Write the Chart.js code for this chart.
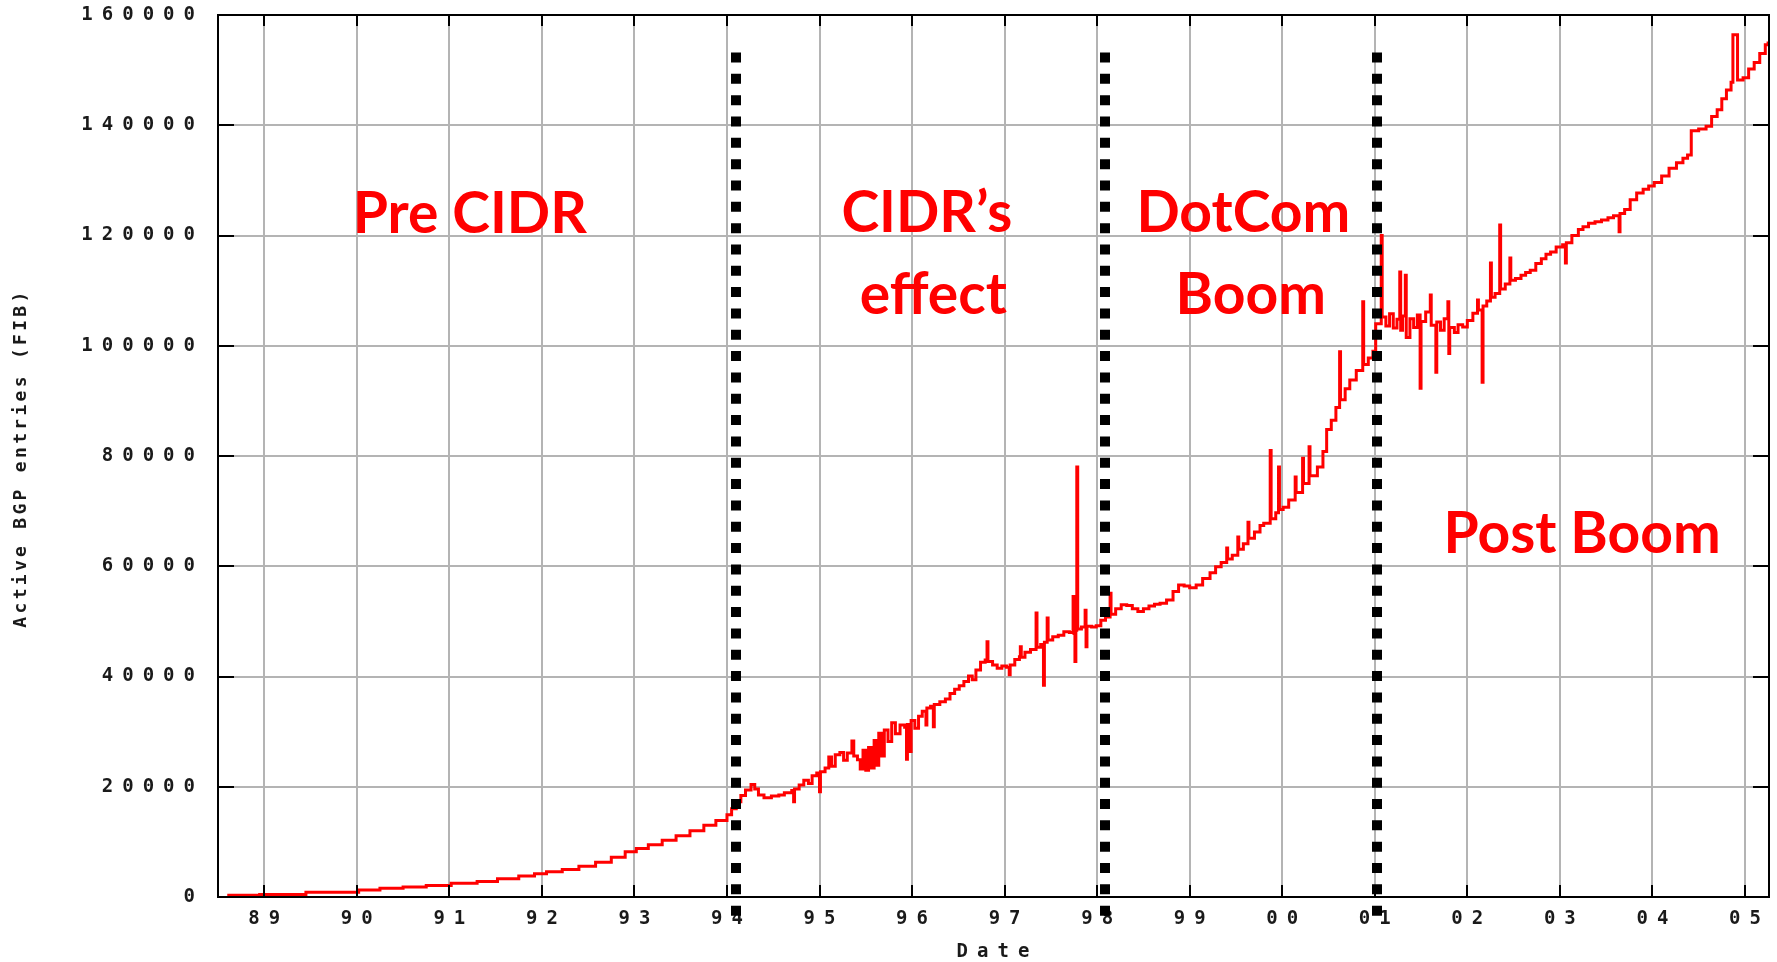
<!DOCTYPE html>
<html>
<head>
<meta charset="utf-8">
<title>Active BGP entries (FIB)</title>
<script src="https://cdn.jsdelivr.net/npm/chart.js@4.4.1/dist/chart.umd.min.js"></script>
<style>
  html, body { margin: 0; padding: 0; background: #fff; }
  #wrap { width: 1777px; height: 962px; position: relative; }
</style>
</head>
<body>
<div id="wrap"><canvas id="bgpChart"></canvas></div>
<script>
// date (fractional year) of each sample
var years = [
  1988.6, 1988.95, 1989.45, 1990.02, 1990.25, 1990.5, 1990.75, 1991.02, 1991.3, 1991.52,
  1991.75, 1991.92, 1992.05, 1992.22, 1992.4, 1992.58, 1992.75, 1992.9, 1993.02, 1993.15,
  1993.3, 1993.45, 1993.6, 1993.75, 1993.88, 1994.0, 1994.05, 1994.1, 1994.15, 1994.2,
  1994.26, 1994.3, 1994.34, 1994.4, 1994.48, 1994.56, 1994.62, 1994.7, 1994.72, 1994.73,
  1994.78, 1994.83, 1994.88, 1994.92, 1994.97, 1995.0, 1995.01, 1995.06, 1995.1, 1995.13,
  1995.17, 1995.22, 1995.26, 1995.3, 1995.35, 1995.37, 1995.41, 1995.44, 1995.47, 1995.5,
  1995.53, 1995.56, 1995.59, 1995.61, 1995.64, 1995.67, 1995.7, 1995.74, 1995.78, 1995.82,
  1995.87, 1995.92, 1995.94, 1995.95, 1995.98, 1995.99, 1996.03, 1996.07, 1996.11, 1996.15,
  1996.16, 1996.2, 1996.23, 1996.24, 1996.3, 1996.36, 1996.41, 1996.46, 1996.51, 1996.56,
  1996.61, 1996.65, 1996.69, 1996.74, 1996.79, 1996.81, 1996.82, 1996.87, 1996.92, 1996.97,
  1997.02, 1997.05, 1997.06, 1997.11, 1997.16, 1997.17, 1997.18, 1997.22, 1997.28, 1997.34,
  1997.35, 1997.39, 1997.42, 1997.43, 1997.46, 1997.47, 1997.52, 1997.58, 1997.64, 1997.7,
  1997.74, 1997.75, 1997.76, 1997.77, 1997.78, 1997.79, 1997.83, 1997.87, 1997.88, 1997.89,
  1997.94, 1997.99, 1998.04, 1998.09, 1998.14, 1998.15, 1998.2, 1998.26, 1998.32, 1998.38,
  1998.44, 1998.5, 1998.56, 1998.62, 1998.68, 1998.75, 1998.82, 1998.88, 1998.94, 1999.0,
  1999.07, 1999.14, 1999.22, 1999.28, 1999.34, 1999.4, 1999.41, 1999.46, 1999.52, 1999.53,
  1999.58, 1999.63, 1999.64, 1999.7, 1999.76, 1999.8, 1999.87, 1999.88, 1999.93, 1999.96,
  1999.97, 2000.01, 2000.07, 2000.14, 2000.15, 2000.22, 2000.23, 2000.29, 2000.3, 2000.38,
  2000.44, 2000.48, 2000.53, 2000.58, 2000.62, 2000.63, 2000.68, 2000.73, 2000.8, 2000.87,
  2000.88, 2000.93, 2000.98, 2001.01, 2001.07, 2001.08, 2001.12, 2001.16, 2001.2, 2001.24,
  2001.27, 2001.28, 2001.3, 2001.33, 2001.34, 2001.38, 2001.42, 2001.46, 2001.49, 2001.5,
  2001.55, 2001.6, 2001.61, 2001.66, 2001.67, 2001.71, 2001.75, 2001.79, 2001.8, 2001.81,
  2001.86, 2001.9, 2001.95, 2002.0, 2002.06, 2002.11, 2002.12, 2002.16, 2002.17, 2002.21,
  2002.25, 2002.26, 2002.3, 2002.35, 2002.36, 2002.41, 2002.46, 2002.47, 2002.52, 2002.58,
  2002.63, 2002.68, 2002.74, 2002.8, 2002.85, 2002.9, 2002.96, 2003.03, 2003.06, 2003.07,
  2003.13, 2003.2, 2003.25, 2003.31, 2003.38, 2003.45, 2003.52, 2003.58, 2003.64, 2003.65,
  2003.7, 2003.76, 2003.83, 2003.9, 2003.96, 2004.02, 2004.1, 2004.18, 2004.26, 2004.33,
  2004.38, 2004.42, 2004.5, 2004.58, 2004.64, 2004.7, 2004.75, 2004.8, 2004.85, 2004.87,
  2004.92, 2004.98, 2005.04, 2005.1, 2005.16, 2005.22, 2005.25
];

// active BGP entries at each date
var entries = [
  300, 450, 850, 1270, 1570, 1800, 2100, 2480, 2800, 3300,
  3800, 4200, 4600, 5000, 5600, 6300, 7200, 8200, 8800, 9500,
  10300, 11100, 12000, 13000, 13900, 14900, 16000, 17300, 18400, 19400,
  20400, 19600, 18500, 18000, 18300, 18500, 18900, 19300, 17300, 19600,
  20300, 21200, 20600, 22000, 22500, 19100, 22700, 23400, 25400, 23700,
  25800, 26200, 24800, 26100, 28300, 25600, 24900, 23200, 26600, 23000,
  27100, 23400, 28400, 23900, 29700, 25600, 30300, 28200, 31600, 29600,
  31200, 30800, 25000, 31300, 26400, 32000, 30600, 32800, 33700, 31200,
  34300, 34600, 30900, 34900, 35400, 35900, 36900, 37700, 38300, 39100,
  40100, 39400, 41200, 42600, 43000, 46300, 42700, 42100, 41500, 41900,
  41700, 40300, 42100, 43100, 43600, 45400, 43500, 44400, 44900, 51500,
  45300, 45800, 38400, 46200, 50600, 46600, 47200, 47500, 48100, 48000,
  54500, 47800, 42700, 48400, 78000, 48600, 49000, 52000, 45400, 49100,
  49000, 49200, 50200, 50800, 55100, 51300, 52300, 53000, 52900, 52300,
  51800, 52300, 52800, 53100, 53300, 53900, 55400, 56600, 56400, 56100,
  56600, 57800, 58800, 59900, 60700, 63300, 61300, 62000, 65300, 63100,
  64100, 68000, 65100, 66200, 67400, 67800, 81000, 68600, 69700, 78000,
  70300, 70700, 72000, 76200, 73400, 79600, 75000, 81700, 76400, 78000,
  80800, 84800, 86500, 88800, 98900, 90200, 92200, 93800, 95500, 108000,
  96600, 97800, 99000, 104000, 120000, 105200, 103600, 105800, 103200, 104800,
  113400, 102800, 105400, 112800, 101500, 104900, 103300, 105600, 92300, 104400,
  106100, 109200, 103700, 95200, 104300, 102800, 104900, 108000, 98600, 103300,
  102400, 103800, 103400, 104600, 105900, 108300, 106500, 93400, 107200, 108100,
  115000, 108800, 109500, 121900, 110300, 111200, 115900, 111900, 112200, 112800,
  113300, 113700, 114900, 115800, 116600, 117000, 117900, 118300, 115000, 118700,
  120000, 121100, 121600, 122200, 122500, 122800, 123200, 123600, 120700, 124000,
  124700, 126500, 127700, 128400, 129000, 129600, 130800, 132200, 133200, 134000,
  134600, 139000, 139300, 139800, 141600, 142800, 144800, 146400, 147800, 156400,
  148200, 148600, 150200, 151400, 153000, 154600, 155200
];

// era boundaries (dotted lines)
var eraBreaks = [1994.1, 1998.08, 2001.02];

// era labels: text lines, date and entries of the baseline
var eraLabels = ["Pre CIDR", "CIDR\u2019s", "effect", "DotCom", "Boom", "Post Boom"];
var eraLabelX = [1991.22, 1996.16, 1996.23, 1999.58, 1999.66, 2003.24];
var eraLabelY = [120500, 120600, 105800, 120600, 105800, 62400];

var TICK_FONT = "DejaVu Sans Mono";
var TICK_SPACING = "9px";

function yearLabel(v) {
  var yy = Math.round(v) % 100;
  return (yy < 10 ? "0" : "") + yy;
}

var points = [];
for (var i = 0; i < years.length; i++) {
  points.push({ x: years[i], y: entries[i] });
}

function line(ctx, x1, y1, x2, y2) {
  ctx.beginPath();
  ctx.moveTo(x1, y1);
  ctx.lineTo(x2, y2);
  ctx.stroke();
}

var decorations = {
  id: "decorations",
  beforeLayout: function (chart) {
    chart.ctx.letterSpacing = TICK_SPACING;
  },
  beforeDraw: function (chart) {
    chart.ctx.letterSpacing = TICK_SPACING;
  },
  afterDatasetsDraw: function (chart) {
    var ctx = chart.ctx;
    var a = chart.chartArea;
    var xs = chart.scales.x;
    var ys = chart.scales.y;
    ctx.save();
    ctx.strokeStyle = "#000";
    ctx.lineWidth = 2;

    // inward tick marks on all four sides
    xs.ticks.forEach(function (t) {
      var px = Math.round(xs.getPixelForValue(t.value));
      line(ctx, px, a.bottom, px, a.bottom - 12);
      line(ctx, px, a.top, px, a.top + 11);
    });
    ys.ticks.forEach(function (t) {
      var py = Math.round(ys.getPixelForValue(t.value));
      line(ctx, a.left, py, a.left + 16, py);
      line(ctx, a.right, py, a.right - 16, py);
    });

    ctx.strokeRect(a.left, a.top, a.right - a.left, a.bottom - a.top);

    // dotted era boundaries
    ctx.setLineDash([10, 11.33]);
    ctx.lineWidth = 10;
    eraBreaks.forEach(function (d) {
      var px = Math.round(xs.getPixelForValue(d));
      line(ctx, px, ys.getPixelForValue(153200), px, a.bottom + 20);
    });
    ctx.setLineDash([]);

    // era labels
    ctx.letterSpacing = "0px";
    ctx.fillStyle = "#ff0000";
    ctx.font = "bold 57px Lato";
    ctx.textAlign = "center";
    ctx.textBaseline = "alphabetic";
    for (var k = 0; k < eraLabels.length; k++) {
      ctx.fillText(eraLabels[k], xs.getPixelForValue(eraLabelX[k]), ys.getPixelForValue(eraLabelY[k]));
    }
    ctx.restore();
  },
  afterDraw: function (chart) {
    var ctx = chart.ctx;
    var a = chart.chartArea;
    ctx.save();
    ctx.fillStyle = "#1a1a1a";
    ctx.font = "bold 19px " + TICK_FONT;
    ctx.textAlign = "center";
    ctx.textBaseline = "middle";
    ctx.letterSpacing = TICK_SPACING;
    ctx.fillText("Date", (a.left + a.right) / 2 + 4, 952);
    ctx.translate(21, (a.top + a.bottom) / 2 + 2);
    ctx.rotate(-Math.PI / 2);
    ctx.font = "bold 18px " + TICK_FONT;
    ctx.letterSpacing = "3.3px";
    ctx.fillText("Active BGP entries (FIB)", 0, 0);
    ctx.restore();
  }
};

var ctx = document.getElementById("bgpChart").getContext("2d");
var bgpChart = new Chart(ctx, {
  type: "line",
  data: {
    datasets: [
      {
        label: "Active BGP entries",
        data: points,
        borderColor: "#ff0000",
        borderWidth: 3,
        pointRadius: 0,
        stepped: true,
        fill: false
      }
    ]
  },
  options: {
    responsive: true,
    maintainAspectRatio: false,
    animation: false,
    layout: { padding: { top: 15, right: 8, left: 0, bottom: 0 } },
    plugins: {
      legend: { display: false },
      tooltip: { enabled: false }
    },
    scales: {
      x: {
        type: "linear",
        min: 1988.5,
        max: 2005.26,
        afterFit: function (scale) {
          scale.height = 65;
          scale.paddingLeft = 0;
          scale.paddingRight = 0;
        },
        grid: { color: "#b4b4b4", lineWidth: 2, drawTicks: false },
        border: { display: false },
        ticks: {
          stepSize: 1,
          includeBounds: false,
          autoSkip: false,
          maxRotation: 0,
          padding: 11,
          labelOffset: 4.5,
          color: "#1a1a1a",
          font: { family: TICK_FONT, size: 19, weight: "bold" },
          callback: yearLabel
        }
      },
      y: {
        min: 0,
        max: 160000,
        afterFit: function (scale) {
          scale.width = 218;
          scale.paddingTop = 0;
          scale.paddingBottom = 0;
        },
        grid: { color: "#b4b4b4", lineWidth: 2, drawTicks: false },
        border: { display: false },
        ticks: {
          stepSize: 20000,
          padding: 14,
          color: "#1a1a1a",
          font: { family: TICK_FONT, size: 19, weight: "bold" },
          callback: function (v) { return String(v); }
        }
      }
    }
  },
  plugins: [decorations]
});
</script>
</body>
</html>
